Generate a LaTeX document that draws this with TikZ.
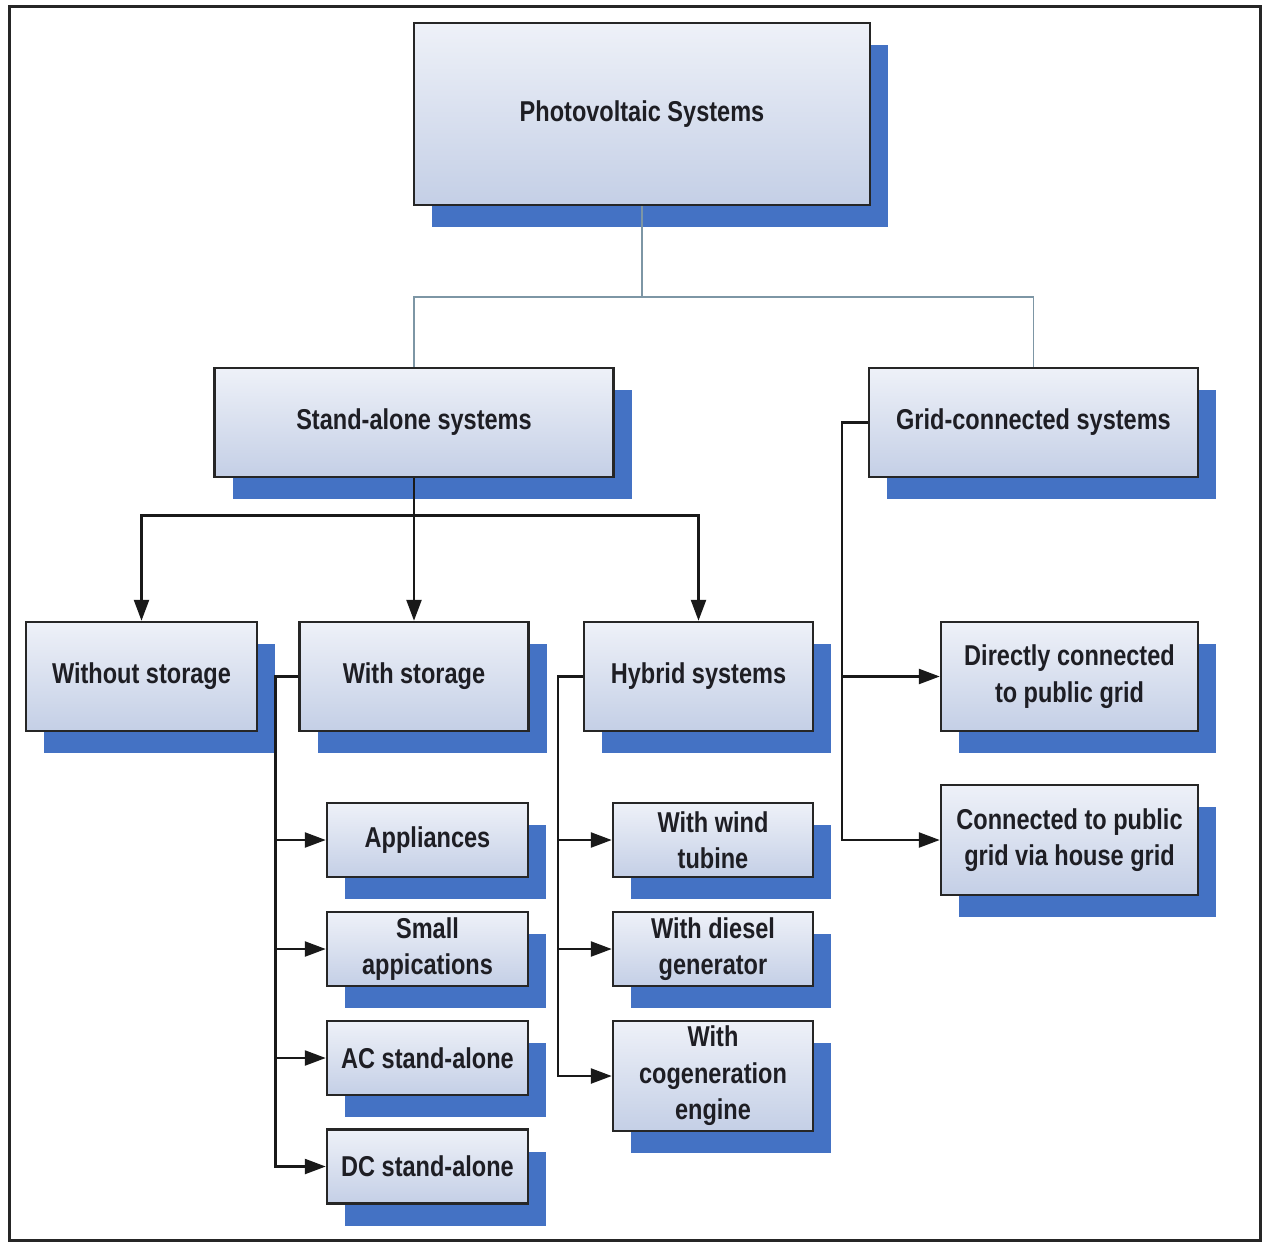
\documentclass[tikz,border=0pt]{standalone}
\usepackage{fontspec}
\newfontfamily\boxfont{Liberation Sans}[FakeStretch=0.82]
\usetikzlibrary{arrows.meta,shadows}
\definecolor{pvshadow}{RGB}{68,114,196}
\definecolor{pvtop}{RGB}{238,241,248}
\definecolor{pvbottom}{RGB}{196,207,230}
\definecolor{pvtree}{RGB}{125,150,165}
\definecolor{pvtext}{RGB}{30,30,36}
\tikzset{
  pvbox/.style={draw=black!85, line width=2.5pt, top color=pvtop, bottom color=pvbottom,
    inner sep=0pt, align=center, text=pvtext,
    font=\boxfont\bfseries\fontsize{28.7}{36.5}\selectfont,
    drop shadow={shadow xshift=18pt, shadow yshift=-22pt, fill=pvshadow, opacity=1}},
  treeline/.style={pvtree, line width=1.8pt},
  arrowline/.style={black!90, line width=2.5pt, -{Triangle[length=21pt,width=15pt]}}
}

\begin{document}
\begin{tikzpicture}[x=1pt, y=-1pt]
    \useasboundingbox[fill=white] (0,0) rectangle (1265,1247);
    % outer frame
    \draw[black!85, line width=3pt] (9,7) rectangle (1260,1240);
    % top levels
    \node[pvbox, minimum width=456, minimum height=182] (pv) at (642,114) {Photovoltaic Systems};
    \node[pvbox, minimum width=399, minimum height=109] (sa) at (414,422.5) {Stand-alone systems};
    \node[pvbox, minimum width=329, minimum height=109] (gc) at (1033.5,422.5) {Grid-connected systems};
    % stand-alone branches
    \node[pvbox, minimum width=231, minimum height=109] (wos) at (141.5,676.5) {Without storage};
    \node[pvbox, minimum width=229, minimum height=109] (wst) at (414,676.5) {With storage};
    \node[pvbox, minimum width=229, minimum height=109] (hyb) at (698.5,676.5) {Hybrid systems};
    % grid-connected branches
    \node[pvbox, minimum width=257, minimum height=109] (dir) at (1069.5,676.5) {Directly connected\\to public grid};
    \node[pvbox, minimum width=257, minimum height=110] (hse) at (1069.5,840) {Connected to public\\grid via house grid};
    % with storage
    \node[pvbox, minimum width=201, minimum height=74] (app) at (427.5,840) {Appliances};
    \node[pvbox, minimum width=201, minimum height=74] (sml) at (427.5,949) {Small\\appications};
    \node[pvbox, minimum width=201, minimum height=74] (acs) at (427.5,1058) {AC stand-alone};
    \node[pvbox, minimum width=201, minimum height=74] (dcs) at (427.5,1166.5) {DC stand-alone};
    % hybrid
    \node[pvbox, minimum width=200, minimum height=74] (wnd) at (713,840) {With wind\\tubine};
    \node[pvbox, minimum width=200, minimum height=74] (dsl) at (713,949) {With diesel\\generator};
    \node[pvbox, minimum width=200, minimum height=110] (cog) at (713,1076) {With\\cogeneration\\engine};
    % connectors
    \draw[treeline] (pv.south) -- ++(0,91) -| (sa.north);
    \draw[treeline] (pv.south) -- ++(0,91) -| (gc.north);
    \foreach \c in {wos,wst,hyb}
      \draw[arrowline] (sa.south) -- ++(0,37) -| (\c.north);
    \foreach \c in {app,sml,acs,dcs}
      \draw[arrowline] (wst.west) -- ++(-23,0) |- (\c.west);
    \foreach \c in {wnd,dsl,cog}
      \draw[arrowline] (hyb.west) -- ++(-25,0) |- (\c.west);
    \foreach \c in {dir,hse}
      \draw[arrowline] (gc.west) -- ++(-26,0) |- (\c.west);
\end{tikzpicture}
\end{document}
